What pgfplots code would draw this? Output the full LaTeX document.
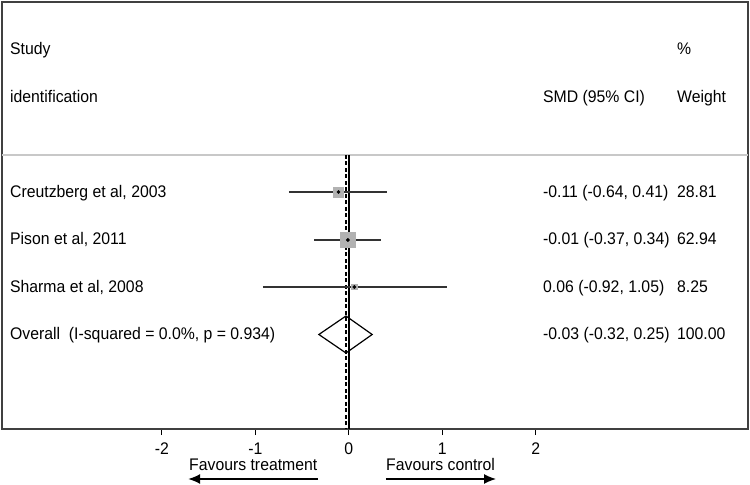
\documentclass[border=0pt]{standalone}
\usepackage{pgfplots}
\pgfplotsset{compat=1.18}
\usepackage{fontspec}
\setmainfont{Liberation Sans}[FakeStretch=0.94]
\usetikzlibrary{arrows.meta}
\definecolor{cil}{HTML}{333333}
\definecolor{sq}{HTML}{B2B2B2}
\definecolor{sep}{HTML}{C8C8C8}
\newcommand{\ff}{\fontsize{16.8bp}{20bp}\selectfont}
\begin{document}
\begin{tikzpicture}[font=\ff, every node/.style={inner sep=0pt}]
\begin{axis}[name=ax, scale only axis, width=746bp, height=427bp,
  xmin=-3.709, xmax=4.270, ymin=-429, ymax=-2,
  clip=false, ytick=\empty,
  xtick={-2,-1,0,1,2}, xticklabels={-2,-1,0,1,2},
  xtick pos=bottom, tick align=outside, major tick length=6bp,
  axis line style={line width=1.4bp, black!75},
  tick style={line width=1.2bp, black},
  xticklabel style={font=\ff, inner sep=0pt, yshift=-7.5bp},
]
% separator
\addplot[sep, line width=2bp] coordinates {(-3.709,-155) (4.270,-155)};
% null line and overall line
\addplot[black, line width=1.6bp] coordinates {(0,-155) (0,-429)};
\addplot[black, line width=1.1bp, dash pattern=on 4bp off 2.5bp] coordinates {(-0.03,-155) (-0.03,-429)};
% CIs
\addplot[cil, line width=1.8bp] coordinates {(-0.64,-192) (0.41,-192)};
\addplot[cil, line width=1.8bp] coordinates {(-0.37,-240) (0.34,-240)};
\addplot[cil, line width=1.8bp] coordinates {(-0.92,-287) (1.05,-287)};
% weight squares
\addplot[sq, only marks, mark=square*, mark size=5.1bp] coordinates {(-0.11,-192)};
\addplot[sq, only marks, mark=square*, mark size=7.6bp] coordinates {(-0.01,-240)};
\addplot[sq, only marks, mark=square*, mark size=2.7bp] coordinates {(0.06,-287)};
% point estimates
\addplot[black, only marks, mark=*, mark size=1.7bp] coordinates {(-0.11,-192) (-0.01,-240) (0.06,-287)};
% diamond
\addplot[black, line width=1.2bp, fill=none] coordinates {(-0.32,-334.5) (-0.03,-316) (0.25,-334.5) (-0.03,-353) (-0.32,-334.5)} -- cycle;
% header
\node[anchor=base west] at (axis cs:-3.624,-55) {Study};
\node[anchor=base west] at (axis cs:-3.624,-103) {identification};
\node[anchor=base west] at (axis cs:2.077,-103) {SMD (95\% CI)};
\node[anchor=base west] at (axis cs:3.510,-55) {\%};
\node[anchor=base west] at (axis cs:3.510,-103) {Weight};
% rows
\node[anchor=base west] at (axis cs:-3.624,-197.5) {Creutzberg et al, 2003};
\node[anchor=base west] at (axis cs:-3.624,-245) {Pison et al, 2011};
\node[anchor=base west] at (axis cs:-3.624,-292.5) {Sharma et al, 2008};
\node[anchor=base west] at (axis cs:-3.624,-340) {Overall\ \ (I-squared = 0.0\%, p = 0.934)};
\node[anchor=base west] at (axis cs:2.077,-197.5) {-0.11 (-0.64, 0.41)};
\node[anchor=base west] at (axis cs:2.077,-245) {-0.01 (-0.37, 0.34)};
\node[anchor=base west] at (axis cs:2.077,-292.5) {0.06 (-0.92, 1.05)};
\node[anchor=base west] at (axis cs:2.077,-340) {-0.03 (-0.32, 0.25)};
\node[anchor=base west] at (axis cs:3.510,-197.5) {28.81};
\node[anchor=base west] at (axis cs:3.510,-245) {62.94};
\node[anchor=base west] at (axis cs:3.510,-292.5) {8.25};
\node[anchor=base west] at (axis cs:3.510,-340) {100.00};
% favours
\node[anchor=base west] at (axis cs:-1.709,-470.5) {Favours treatment};
\node[anchor=base west] at (axis cs:0.398,-470.5) {Favours control};
\draw[-{Latex[length=12bp,width=10bp]}, line width=1.5bp] (axis cs:-0.329,-479) -- (axis cs:-1.718,-479);
\draw[-{Latex[length=12bp,width=10bp]}, line width=1.5bp] (axis cs:0.398,-479) -- (axis cs:1.575,-479);
\end{axis}
\pgfresetboundingbox
\path ([shift={(-2bp,-56bp)}]ax.south west) rectangle ([shift={(2bp,2bp)}]ax.north east);
\end{tikzpicture}
\end{document}
